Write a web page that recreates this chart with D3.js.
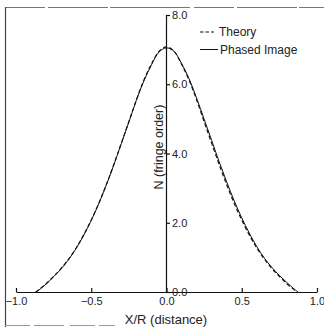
<!DOCTYPE html>
<html>
<head>
<meta charset="utf-8">
<script src="https://cdn.jsdelivr.net/npm/d3@7"></script>
<style>
  html, body { margin: 0; padding: 0; background: #fff; }
  svg { display: block; }
  text { font-family: Arial, "Liberation Sans", sans-serif; fill: #222; }
</style>
</head>
<body>
<svg id="chart" width="324" height="327"></svg>
<script>
// ---- data ----
const xTheory = [-0.87,-0.85,-0.8,-0.75,-0.7,-0.65,-0.6,-0.55,-0.5,-0.45,-0.4,-0.35,-0.3,-0.25,-0.2,-0.15,-0.1,-0.05,0,
                 0.05,0.1,0.15,0.2,0.25,0.3,0.35,0.4,0.45,0.5,0.55,0.6,0.65,0.7,0.75,0.8,0.85,0.87];
const nTheory = [0,0.06,0.24,0.45,0.68,0.95,1.27,1.65,2.08,2.56,3.1,3.68,4.3,4.92,5.55,6.12,6.58,6.95,7.08,
                 6.95,6.58,6.12,5.55,4.92,4.3,3.68,3.1,2.56,2.08,1.65,1.27,0.95,0.68,0.45,0.24,0.06,0];
const xPhased = [-0.865,-0.85,-0.8,-0.75,-0.7,-0.65,-0.6,-0.55,-0.5,-0.45,-0.4,-0.35,-0.3,-0.25,-0.2,-0.15,-0.1,-0.05,0,
                 0.05,0.1,0.15,0.2,0.25,0.3,0.35,0.4,0.45,0.5,0.55,0.6,0.65,0.7,0.75,0.8,0.85,0.875];
const nPhased = [0,0.05,0.23,0.44,0.67,0.94,1.26,1.64,2.07,2.55,3.09,3.67,4.29,4.91,5.54,6.1,6.56,6.93,7.05,
                 6.95,6.6,6.16,5.6,4.99,4.38,3.76,3.18,2.63,2.14,1.7,1.31,0.98,0.71,0.48,0.27,0.08,0];
const xTicks = [-1.0,-0.5,0.0,0.5,1.0];
const yTicks = [0,2,4,6,8];
const legendLabels = ["Theory","Phased Image"];

const svg = d3.select("#chart");

// scan frame
svg.append("line").attr("x1",5).attr("x2",324).attr("y1",7.5).attr("y2",7.5)
  .attr("stroke","#777").attr("stroke-width",1).attr("stroke-dasharray","40,3,60,2,80,4");
svg.append("line").attr("x1",5.5).attr("x2",5.5).attr("y1",7).attr("y2",327)
  .attr("stroke","#444").attr("stroke-width",1.2);
svg.append("line").attr("x1",5).attr("x2",115).attr("y1",325.5).attr("y2",325.5)
  .attr("stroke","#999").attr("stroke-width",1).attr("stroke-dasharray","25,4,30,6");

const x = d3.scaleLinear().domain([-1,1]).range([16,317]);
const y = d3.scaleLinear().domain([0,8]).range([292,15]);

// x axis
const gx = svg.append("g").attr("transform","translate(0,292)")
  .call(d3.axisBottom(x).tickValues(xTicks).tickFormat(d3.format(".1f"))
        .tickSizeInner(-4).tickSizeOuter(0).tickPadding(5));
gx.selectAll("text").attr("font-size","11px").attr("font-family","Arial, 'Liberation Sans', sans-serif")
  .attr("fill","#222");
gx.selectAll("line,path").attr("stroke","#111").attr("stroke-width",1.2);

// y axis
const gy = svg.append("g").attr("transform","translate(166,0)")
  .call(d3.axisRight(y).tickValues(yTicks).tickFormat(d3.format(".1f"))
        .tickSizeInner(4).tickSizeOuter(0).tickPadding(2));
gy.selectAll("text").attr("font-size","11px").attr("font-family","Arial, 'Liberation Sans', sans-serif")
  .attr("fill","#222");
gy.selectAll("line,path").attr("stroke","#111").attr("stroke-width",1.2);

// axis titles
svg.append("text").attr("x",166).attr("y",324).attr("text-anchor","middle")
  .attr("font-size","13px").text("X/R (distance)");
svg.append("text").attr("transform","translate(163,147) rotate(-90)").attr("text-anchor","middle")
  .attr("font-size","12.5px").text("N (fringe order)");

// curves
const line = d3.line().x(d => x(d[0])).y(d => y(d[1])).curve(d3.curveCatmullRom.alpha(0.5));
svg.append("path").datum(xPhased.map((v,i)=>[v,nPhased[i]]))
  .attr("d",line).attr("fill","none").attr("stroke","#111").attr("stroke-width",1);
svg.append("path").datum(xTheory.map((v,i)=>[v,nTheory[i]]))
  .attr("d",line).attr("fill","none").attr("stroke","#111").attr("stroke-width",1.2)
  .attr("stroke-dasharray","4,2.5");

// legend
const leg = svg.append("g");
leg.append("line").attr("x1",200).attr("x2",214).attr("y1",32).attr("y2",32)
  .attr("stroke","#111").attr("stroke-width",1.2).attr("stroke-dasharray","3.5,2");
leg.append("text").attr("x",219).attr("y",36).attr("font-size","12px").text(legendLabels[0]);
leg.append("line").attr("x1",200).attr("x2",218).attr("y1",49.5).attr("y2",49.5)
  .attr("stroke","#111").attr("stroke-width",1);
leg.append("text").attr("x",220).attr("y",54).attr("font-size","12px").text(legendLabels[1]);
</script>
</body>
</html>
